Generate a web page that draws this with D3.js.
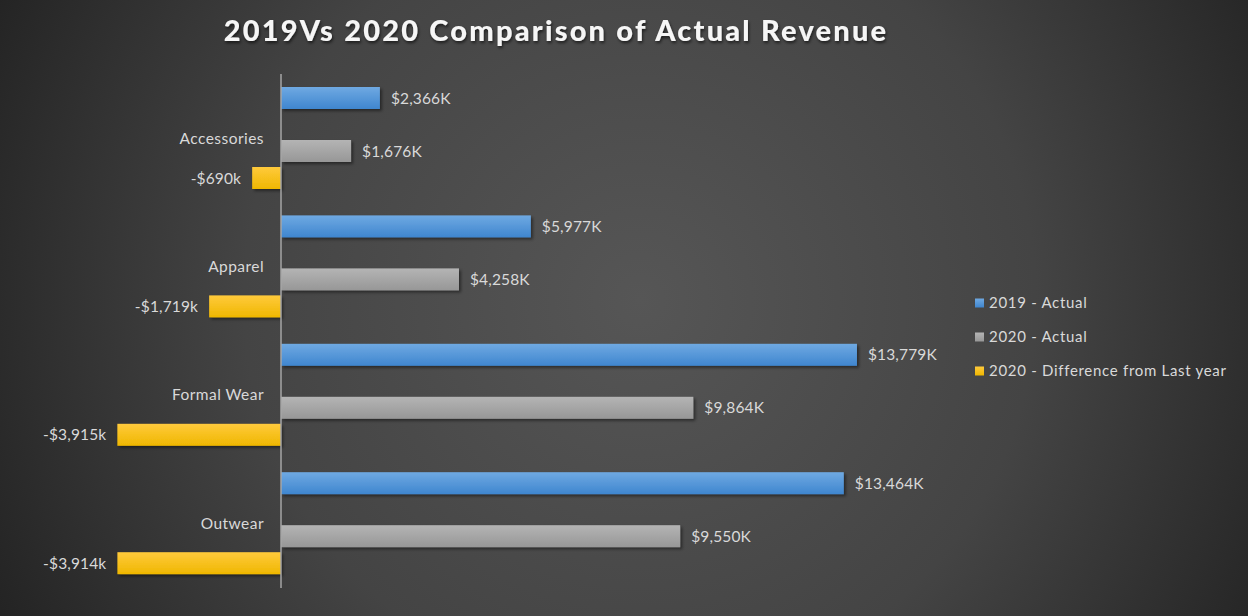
<!DOCTYPE html>
<html><head><meta charset="utf-8">
<script src="https://cdn.jsdelivr.net/npm/d3@7/dist/d3.min.js"></script>
<style>html,body{margin:0;padding:0;background:#333;overflow:hidden}</style>
</head><body>
<svg id="c" width="1248" height="616"></svg>
<script>
const categories = ["Accessories", "Apparel", "Formal Wear", "Outwear"];
const seriesNames = ["2019 - Actual", "2020 - Actual", "2020 - Difference from Last year"];
const actual2019 = [2366, 5977, 13779, 13464];
const actual2020 = [1676, 4258, 9864, 9550];
const diff2020 = [-690, -1719, -3915, -3914];
const labels2019 = ["$2,366K", "$5,977K", "$13,779K", "$13,464K"];
const labels2020 = ["$1,676K", "$4,258K", "$9,864K", "$9,550K"];
const labelsDiff = ["-$690k", "-$1,719k", "-$3,915k", "-$3,914k"];
const title = "2019Vs 2020 Comparison of Actual Revenue";

const W = 1248, H = 616;
const svg = d3.select("#c");
const defs = svg.append("defs");

const bg = defs.append("radialGradient").attr("id","bg")
  .attr("gradientUnits","userSpaceOnUse").attr("cx",640).attr("cy",300).attr("r",720);
bg.append("stop").attr("offset","0").attr("stop-color","#565656");
bg.append("stop").attr("offset","0.55").attr("stop-color","#444444");
bg.append("stop").attr("offset","1").attr("stop-color","#232323");
svg.append("rect").attr("width",W).attr("height",H).attr("fill","url(#bg)");

const grads = [["g0","#6fa9e2","#3f86cf"],["g1","#b4b4b4","#979797"],["g2","#ffca3c","#efb700"]];
grads.forEach(([id,a,b])=>{
  const g = defs.append("linearGradient").attr("id",id).attr("x1",0).attr("y1",0).attr("x2",0).attr("y2",1);
  g.append("stop").attr("offset",0).attr("stop-color",a);
  g.append("stop").attr("offset",1).attr("stop-color",b);
});
const sh = defs.append("filter").attr("id","sh").attr("x","-10%").attr("y","-30%").attr("width","130%").attr("height","180%");
sh.append("feDropShadow").attr("dx",2).attr("dy",2).attr("stdDeviation",1.5).attr("flood-color","#000").attr("flood-opacity",0.45);
const tsh = defs.append("filter").attr("id","tsh").attr("x","-5%").attr("y","-30%").attr("width","110%").attr("height","170%");
tsh.append("feDropShadow").attr("dx",1).attr("dy",2).attr("stdDeviation",1.5).attr("flood-color","#000").attr("flood-opacity",0.6);

const x = d3.scaleLinear().domain([-4000, 14000]).range([281 - 4000*0.0418, 281 + 14000*0.0418]);
const y = d3.scaleBand().domain(categories).range([74, 74 + 4*128.4]).padding(0);
const offsets = [13, 66, 93];
const barH = 22;

const series = [actual2019, actual2020, diff2020];
const labelSets = [labels2019, labels2020, labelsDiff];

series.forEach((vals, s) => {
  const g = svg.append("g");
  g.selectAll("rect").data(vals).join("rect")
    .attr("x", d => x(Math.min(0,d)))
    .attr("width", d => Math.abs(x(d)-x(0)))
    .attr("y", (d,i) => y(categories[i]) + offsets[s])
    .attr("height", barH)
    .attr("fill", `url(#g${s})`)
    .attr("filter","url(#sh)");
  g.selectAll("text").data(vals).join("text")
    .attr("x", d => d >= 0 ? x(d) + 11 : x(d) - 11)
    .attr("y", (d,i) => y(categories[i]) + offsets[s] + barH/2)
    .attr("dy","0.36em")
    .attr("text-anchor", d => d >= 0 ? "start" : "end")
    .attr("fill","#d9d9d9")
    .attr("font-family","Lato, 'Open Sans', sans-serif")
    .attr("font-size",15.5)
    .attr("letter-spacing",0.15)
    .text((d,i) => labelSets[s][i]);
});

// category axis line
svg.append("line").attr("x1",x(0)).attr("x2",x(0)).attr("y1",74).attr("y2",588)
  .attr("stroke","#a6a6a6").attr("stroke-width",1.5);

svg.append("g").selectAll("text").data(categories).join("text")
  .attr("x", x(0) - 17)
  .attr("y", d => y(d) + 64)
  .attr("dy","0.36em")
  .attr("text-anchor","end")
  .attr("fill","#d9d9d9")
  .attr("font-family","Lato, 'Open Sans', sans-serif")
  .attr("font-size",15.5)
  .attr("letter-spacing",0.45)
  .text(d => d);

// title
svg.append("text").attr("x",556).attr("y",41).attr("text-anchor","middle")
  .attr("fill","#f6f6f6").attr("font-family","Lato, 'Open Sans', sans-serif")
  .attr("font-weight","900").attr("font-size",29).attr("letter-spacing",2.2)
  .attr("filter","url(#tsh)")
  .text(title);

// legend
const legY = d3.scalePoint().domain(seriesNames).range([303, 371]);
const lg = svg.append("g");
lg.selectAll("rect").data(seriesNames).join("rect")
  .attr("x",975).attr("y",d=>legY(d)-4.5).attr("width",9).attr("height",9)
  .attr("fill",(d,i)=>`url(#g${i})`);
lg.selectAll("text").data(seriesNames).join("text")
  .attr("x",989).attr("y",d=>legY(d)).attr("dy","0.36em")
  .attr("fill","#d9d9d9").attr("font-family","Lato, 'Open Sans', sans-serif")
  .attr("font-size",15).attr("letter-spacing",0.7).text(d=>d);
</script>
</body></html>
